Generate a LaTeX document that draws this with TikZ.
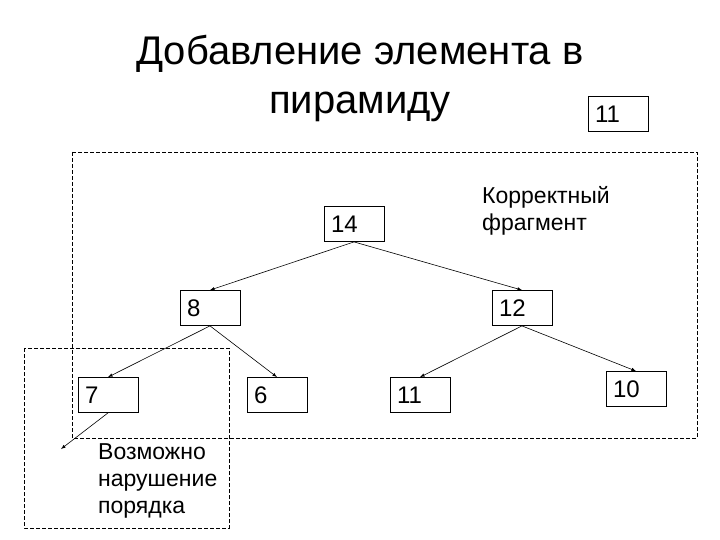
\documentclass[tikz,border=0pt]{standalone}
\usepackage{fontspec}
\setmainfont{Liberation Sans}
\usepackage{tikz}
\usetikzlibrary{arrows,positioning}
\tikzset{font=\fontsize{24}{28}\selectfont}
\tikzset{every node/.append style={transform shape=false}}
\tikzset{elem/.style={draw,line width=0.8pt,minimum height=35pt,text width=46pt,inner xsep=7pt,align=left}}
\tikzset{zone/.style={line width=0.8pt,dash pattern=on 4pt off 2pt}}
\tikzset{link/.style={-latex,line width=0.6pt}}
\tikzset{note/.style={anchor=north west,inner sep=0pt,align=left,font=\fontsize{23}{27}\selectfont}}

\begin{document}
\begin{tikzpicture}[x=1pt,y=-1pt]
  \useasboundingbox (0,0) rectangle (720,540);
  \node[anchor=north,inner sep=0pt,align=center,font=\fontsize{40}{49}\selectfont] (title) at (360,35) {Добавление элемента в\\пирамиду};
  \draw[zone] (72,152) rectangle (697,438);
  \draw[zone] (24,348) rectangle (229,528);
  \node[elem] (new) at (618,114) {11};
  \node[elem] (root) at (354,224) {14};
  \node[elem] (left) at (210,308) {8};
  \node[elem] (right) at (522,308) {12};
  \node[elem] (ll) at (108,395) {7};
  \node[elem] (lr) at (277,395) {6};
  \node[elem] (rl) at (420,395) {11};
  \node[elem] (rr) at (636,389) {10};
  \coordinate (child) at (61,449);
  \draw[link] (root.south) -- (left.north);
  \draw[link] (root.south) -- (right.north);
  \draw[link] (left.south) -- (ll.north);
  \draw[link] (left.south) -- (lr.north);
  \draw[link] (right.south) -- (rl.north);
  \draw[link] (right.south) -- (rr.north);
  \draw[link] (ll.south) -- (child);
  \node[note] (ok) at (482,186) {Корректный\\фрагмент};
  \node[note] (bad) at (98,443) {Возможно\\нарушение\\порядка};
\end{tikzpicture}
\end{document}
